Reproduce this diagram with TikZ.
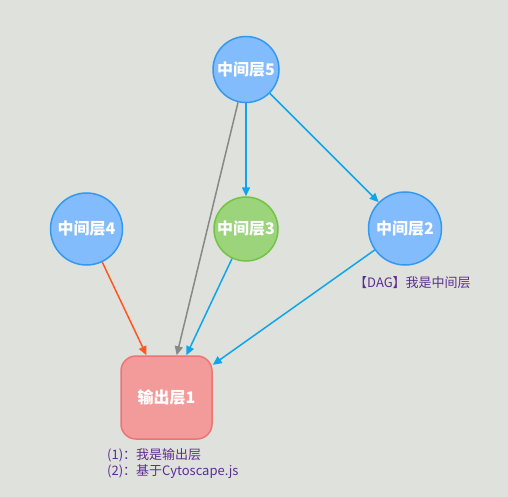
\documentclass[tikz,border=0pt]{standalone}
\usepackage{fontspec}
\setmainfont{Noto Sans CJK SC}
\usetikzlibrary{arrows.meta}
\definecolor{bgcol}{HTML}{DFE1DC}
\definecolor{layerfill}{HTML}{82BCFC}
\definecolor{layerline}{HTML}{3399F0}
\definecolor{midfill}{HTML}{9BD47A}
\definecolor{midline}{HTML}{72C442}
\definecolor{outfill}{HTML}{F39B9B}
\definecolor{outline}{HTML}{EE7474}
\definecolor{edgeblue}{HTML}{0EA5EC}
\definecolor{edgeorange}{HTML}{FF5722}
\definecolor{edgegray}{HTML}{888888}
\definecolor{notecol}{HTML}{5E2D91}
\tikzset{
	layer/.style={circle, draw=layerline, fill=layerfill, line width=1.5pt, inner sep=0pt, minimum size=#1,
		text=white, font=\fontsize{16}{16}\selectfont\bfseries},
	layer/.default=66pt,
	outbox/.style={rectangle, rounded corners=15pt, draw=outline, fill=outfill, line width=1.5pt,
		minimum width=91pt, minimum height=83pt, text=white, font=\fontsize{16}{16}\selectfont\bfseries},
	link/.style={line width=1.5pt, -{Triangle[length=9pt,width=8pt]}},
	note/.style={anchor=west, inner sep=0pt, text=notecol, font=\fontsize{13}{13}\selectfont},
}
\begin{document}
\begin{tikzpicture}[x=1pt,y=-1pt]
		\fill [bgcol] ( 0, 0 ) rectangle ( 508, 497 );
		\useasboundingbox ( 0, 0 ) rectangle ( 508, 497 );
		\node [layer] (n5) at ( 246, 69.5 ) {中间层5};
		\node [layer=72pt] (n4) at ( 86.5, 229 ) {中间层4};
		\node [layer=64pt, draw=midline, fill=midfill] (n3) at ( 246, 229 ) {中间层3};
		\node [layer=73pt] (n2) at ( 405, 228.5 ) {中间层2};
		\node [outbox] (n1) at ( 166.5, 397.5 ) {输出层1};
		\draw [link, edgegray] (n5) -- (n1);
		\draw [link, edgeblue] (n5) -- (n3);
		\draw [link, edgeblue] (n5) -- (n2);
		\draw [link, edgeblue] (n3) -- (n1);
		\draw [link, edgeblue] (n2) -- (n1);
		\draw [link, edgeorange] (n4) -- (n1);
		\node [note] (note2) at ( 354, 283 ) {【DAG】我是中间层};
		\node [note] (note1a) at ( 107, 455 ) {(1)：我是输出层};
		\node [note] (note1b) at ( 107, 472 ) {(2)：基于Cytoscape.js};
	\end{tikzpicture}
\end{document}
